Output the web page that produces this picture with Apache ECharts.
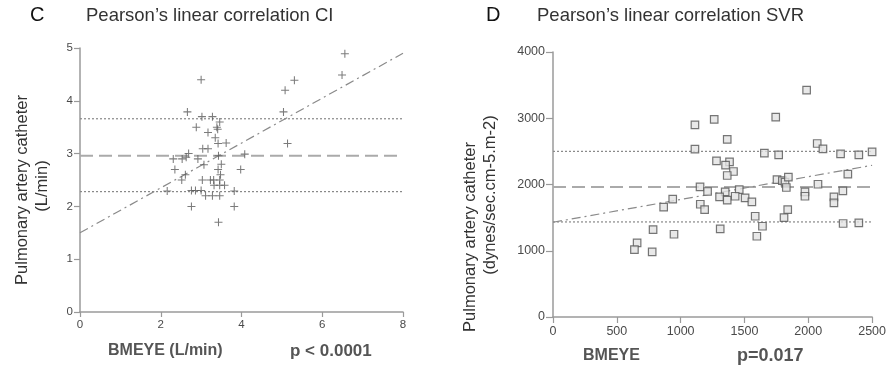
<!DOCTYPE html>
<html>
<head>
<meta charset="utf-8">
<script src="https://cdn.jsdelivr.net/npm/echarts@6/dist/echarts.min.js"></script>
<style>
  html, body { margin: 0; padding: 0; background: #fff; }
  #chart { width: 889px; height: 371px; }
</style>
</head>
<body>
<div id="chart"></div>
<script>
// panel C: cardiac index, BMEYE vs PAC (L/min)
const ciPoints = [
  [3.00, 4.40], [2.66, 3.79], [3.02, 3.70], [3.28, 3.70], [3.46, 3.60], [2.88, 3.50],
  [3.39, 3.50], [3.41, 3.46], [3.17, 3.40], [3.35, 3.30], [3.42, 3.19], [3.62, 3.20],
  [3.04, 3.09], [3.17, 3.09], [2.69, 3.00], [4.08, 2.99], [2.31, 2.90], [2.53, 2.90],
  [2.63, 2.93], [2.92, 2.90], [3.43, 2.96], [3.07, 2.79], [3.50, 2.80], [2.35, 2.70],
  [3.42, 2.70], [3.98, 2.70], [2.61, 2.60], [3.48, 2.60], [2.52, 2.50], [3.03, 2.50],
  [3.23, 2.50], [3.31, 2.50], [3.46, 2.50], [3.32, 2.40], [3.46, 2.40], [3.58, 2.40],
  [2.16, 2.29], [2.76, 2.30], [2.86, 2.30], [3.00, 2.30], [3.82, 2.29], [3.11, 2.20],
  [3.28, 2.20], [3.46, 2.20], [2.76, 2.00], [3.82, 2.00], [3.43, 1.70],
  [6.56, 4.89], [6.49, 4.49], [5.31, 4.39], [5.08, 4.20], [5.04, 3.79], [5.14, 3.19]
];
const ciMean = 2.96;
const ciLimits = [2.28, 3.66];
const ciFit = [[0, 1.5], [8, 4.9]];
const ciXRange = [0, 8];

// panel D: systemic vascular resistance
const svrPoints = [
  [1263, 2982], [1112, 2900], [1365, 2680], [1112, 2533], [1281, 2357], [1383, 2341],
  [1352, 2292], [1414, 2196], [1365, 2136], [1152, 1964], [1211, 1894], [1349, 1888],
  [1459, 1924], [1305, 1813], [1365, 1763], [1427, 1823], [1505, 1798], [1558, 1737],
  [938, 1778], [867, 1657], [1154, 1702], [1188, 1622], [1584, 1521], [784, 1320],
  [948, 1249], [1310, 1329], [659, 1118], [638, 1018], [777, 982], [1597, 1219],
  [1987, 3424], [1745, 3017], [2070, 2619], [2115, 2538], [1656, 2473], [1768, 2447],
  [2253, 2462], [2396, 2447], [2500, 2492], [2310, 2156], [1755, 2075], [1797, 2060],
  [1818, 2035], [1844, 2110], [1828, 1955], [2076, 2004], [1974, 1888], [1974, 1823],
  [2271, 1903], [2201, 1813], [2201, 1722], [1839, 1622], [1810, 1501], [1641, 1370],
  [2273, 1411], [2396, 1420]
];
const svrMean = 1964;
const svrLimits = [1435, 2500];
const svrFit = [[0, 1430], [2500, 2290]];
const svrXRange = [0, 2500];

const axisGrey = '#9a9a9a';
const textGrey = '#4a4a4a';
const font = 'Liberation Sans, Arial, sans-serif';

const plusSymbol = 'path://M4,0h1.2v4h4v1.2h-4v4h-1.2v-4h-4v-1.2h4z';

function hline(xi, yi, xr, y, type, width, color) {
  return {
    type: 'line', xAxisIndex: xi, yAxisIndex: yi, silent: true, symbol: 'none',
    data: [[xr[0], y], [xr[1], y]],
    lineStyle: { type: type, width: width, color: color }, z: 1
  };
}

function fitLine(xi, yi, pts) {
  return {
    type: 'line', xAxisIndex: xi, yAxisIndex: yi, silent: true, symbol: 'none',
    data: pts,
    lineStyle: { type: [9, 4, 2, 4], width: 1.2, color: '#8a8a8a' }, z: 1
  };
}

// vertical axis title, one text per line
function vtext(text, x, y) {
  return {
    type: 'text', x: x, y: y, rotation: Math.PI / 2,
    style: { text: text, fontSize: 16.5, fontFamily: font, fill: '#333', align: 'center', verticalAlign: 'middle' }
  };
}

const plain = v => String(v);

const baseAxis = {
  axisLine: { lineStyle: { color: axisGrey, width: 1.5 } },
  splitLine: { show: false }
};

const chart = echarts.init(document.getElementById('chart'));
chart.setOption({
  animation: false,
  backgroundColor: '#fff',
  grid: [
    { left: 80, top: 48, right: 486, bottom: 59 },
    { left: 553, top: 52, right: 16, bottom: 54 }
  ],
  xAxis: [
    Object.assign({}, baseAxis, {
      gridIndex: 0, type: 'value', min: 0, max: 8, interval: 2,
      axisTick: { length: 5, lineStyle: { color: axisGrey, width: 1.2 } },
      axisLabel: { color: textGrey, fontFamily: font, fontSize: 11.5, margin: 7, formatter: plain }
    }),
    Object.assign({}, baseAxis, {
      gridIndex: 1, type: 'value', min: 0, max: 2500, interval: 500,
      axisTick: { length: 6, lineStyle: { color: axisGrey, width: 1.2 } },
      axisLabel: { color: textGrey, fontFamily: font, fontSize: 12.5, margin: 8, formatter: plain }
    })
  ],
  yAxis: [
    Object.assign({}, baseAxis, {
      gridIndex: 0, type: 'value', min: 0, max: 5, interval: 1,
      axisTick: { length: 6, lineStyle: { color: axisGrey, width: 1.2 } },
      axisLabel: { color: textGrey, fontFamily: font, fontSize: 11.5, margin: 7, formatter: plain }
    }),
    Object.assign({}, baseAxis, {
      gridIndex: 1, type: 'value', min: 0, max: 4000, interval: 1000,
      axisTick: { length: 7, lineStyle: { color: axisGrey, width: 1.2 } },
      axisLabel: { color: textGrey, fontFamily: font, fontSize: 12.5, margin: 8, formatter: plain }
    })
  ],
  series: [
    hline(0, 0, ciXRange, ciLimits[1], [2, 2], 1.2, '#888'),
    hline(0, 0, ciXRange, ciMean, [13, 6], 2, '#aaa'),
    hline(0, 0, ciXRange, ciLimits[0], [2, 2], 1.2, '#888'),
    fitLine(0, 0, ciFit),
    {
      type: 'scatter', xAxisIndex: 0, yAxisIndex: 0,
      data: ciPoints, symbol: plusSymbol, symbolSize: 8,
      itemStyle: { color: '#5a5a5a' }, z: 3
    },
    hline(1, 1, svrXRange, svrLimits[1], [2, 2], 1.2, '#888'),
    hline(1, 1, svrXRange, svrMean, [13, 6], 2, '#aaa'),
    hline(1, 1, svrXRange, svrLimits[0], [2, 2], 1.2, '#888'),
    fitLine(1, 1, svrFit),
    {
      type: 'scatter', xAxisIndex: 1, yAxisIndex: 1,
      data: svrPoints, symbol: 'rect', symbolSize: 7.5,
      itemStyle: { color: '#e2e2e2', borderColor: '#555', borderWidth: 1.2 }, z: 3
    }
  ],
  graphic: [
    { type: 'text', left: 30, top: 5, style: { text: 'C', fontSize: 20, fontFamily: font, fill: '#111' } },
    { type: 'text', left: 86, top: 6, style: { text: 'Pearson\u2019s linear correlation CI', fontSize: 18.5, fontFamily: font, fill: '#333' } },
    { type: 'text', left: 486, top: 5, style: { text: 'D', fontSize: 20, fontFamily: font, fill: '#111' } },
    { type: 'text', left: 537, top: 6, style: { text: 'Pearson\u2019s linear correlation SVR', fontSize: 18.5, fontFamily: font, fill: '#333' } },
    vtext('Pulmonary artery catheter', 22, 190),
    vtext('(L/min)', 42, 186),
    vtext('Pulmonary artery catheter', 470, 237),
    vtext('(dynes/sec.cm-5.m-2)', 490, 195),
    { type: 'text', left: 108, top: 343, style: { text: 'BMEYE (L/min)', fontSize: 16, fontWeight: 'bold', fontFamily: font, fill: '#555' } },
    { type: 'text', left: 290, top: 343, style: { text: 'p < 0.0001', fontSize: 17, fontWeight: 'bold', fontFamily: font, fill: '#555' } },
    { type: 'text', left: 583, top: 348, style: { text: 'BMEYE', fontSize: 16, fontWeight: 'bold', fontFamily: font, fill: '#555' } },
    { type: 'text', left: 737, top: 347, style: { text: 'p=0.017', fontSize: 18, fontWeight: 'bold', fontFamily: font, fill: '#555' } }
  ]
});
</script>
</body>
</html>
